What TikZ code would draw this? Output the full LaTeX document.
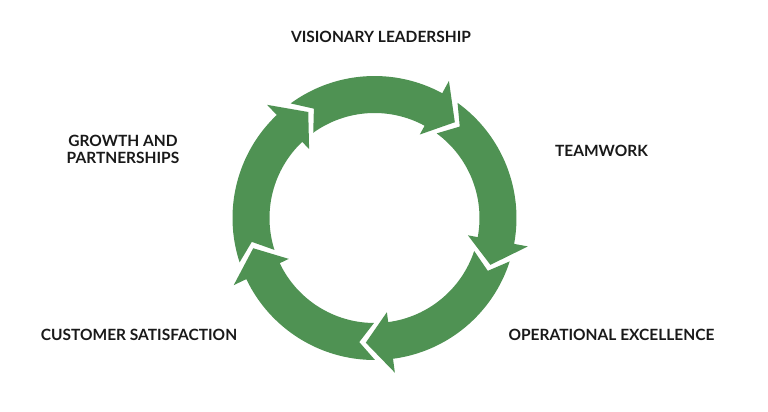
\documentclass[tikz,border=0pt]{standalone}
\usepackage{fontspec}
\setmainfont{Lato}
\definecolor{ringgreen}{RGB}{79,146,83}
\begin{document}
\begin{tikzpicture}[x=1pt,y=1pt,
  arrowfill/.style={fill=ringgreen},
  label/.style={font=\fontsize{15.5}{17.5}\selectfont\bfseries, text=black!90, align=center, inner sep=0pt}]
\useasboundingbox (-374.5,-194) rectangle (393.5,218);
\def\d{3}
\foreach \h in {50,-22,-94,-166,-238} {
  \pgfmathsetmacro\t{\h+72}
  \pgfmathsetmacro\oa{\t+7.2-\d}
  \pgfmathsetmacro\ia{\t+6.7-\d}
  \pgfmathsetmacro\na{\t-\d}
  \pgfmathsetmacro\b{\h+11.5}
  \fill[arrowfill] (\oa:142pt) arc[start angle=\oa, end angle=\b, radius=142pt]
     -- (\b:156pt) -- (\h:125pt) -- (\b:95pt) -- (\b:105pt)
     arc[start angle=\b, end angle=\ia, radius=105pt]
     -- (\na:125pt) -- cycle;
}
\node[label] (vis) at (6.5,181) {VISIONARY LEADERSHIP};
\node[label] (team) at (227,67) {TEAMWORK};
\node[label] (grow) at (-251.5,68.5) {GROWTH AND\\PARTNERSHIPS};
\node[label] (cust) at (-235.5,-117) {CUSTOMER SATISFACTION};
\node[label] (oper) at (237,-117) {OPERATIONAL EXCELLENCE};
\end{tikzpicture}
\end{document}
